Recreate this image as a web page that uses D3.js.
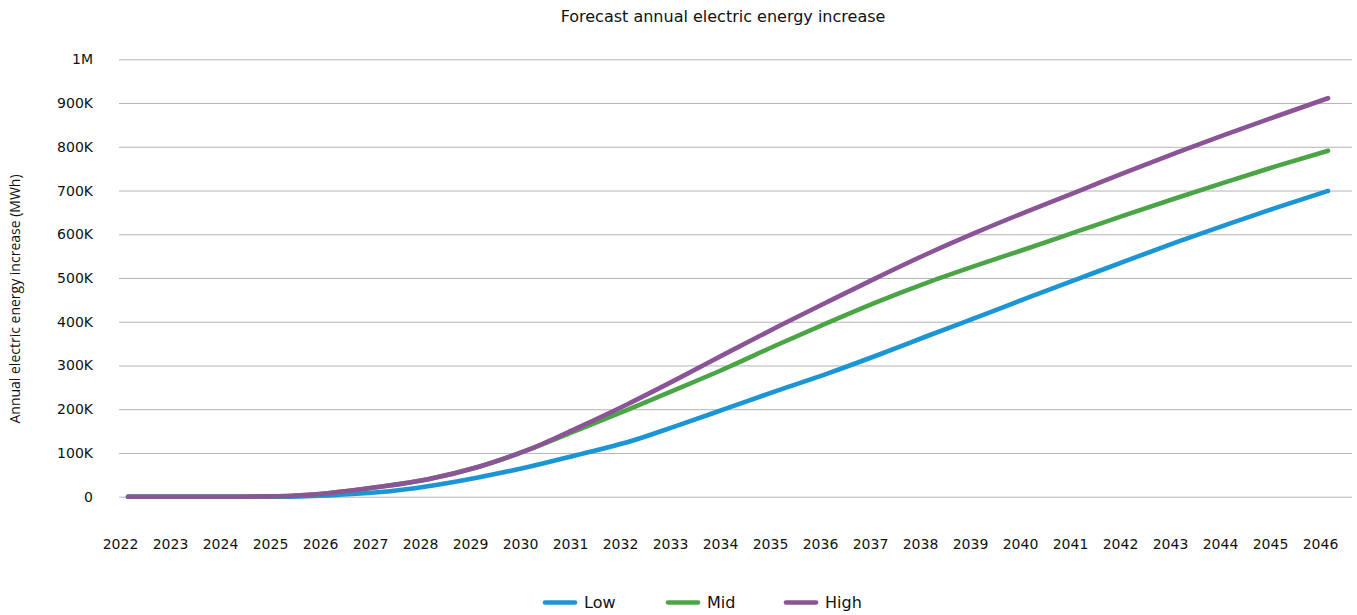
<!DOCTYPE html>
<html>
<head>
<meta charset="utf-8">
<script src="https://cdn.jsdelivr.net/npm/d3@7/dist/d3.min.js"></script>
<style>
  html, body { margin: 0; padding: 0; background: #fff; }
  svg { display: block; }
  text { font-family: "DejaVu Sans", "Noto Sans", sans-serif; fill: #111; }
</style>
</head>
<body>
<svg id="chart" width="1357" height="615"></svg>
<script>
// Forecast years (category axis)
const years = [2022, 2023, 2024, 2025, 2026, 2027, 2028, 2029, 2030, 2031, 2032, 2033,
               2034, 2035, 2036, 2037, 2038, 2039, 2040, 2041, 2042, 2043, 2044, 2045, 2046];

// Annual electric energy increase, thousands of MWh
const lowValues  = [0, 0, 0, 0, 3, 10, 24, 44, 68, 96, 125, 163,
                    203, 243, 282, 324, 368, 411, 455, 498, 541, 583, 623, 662, 699];
const midValues  = [0, 0, 0, 1, 8, 22, 40, 68, 107, 153, 199, 247,
                    296, 348, 398, 446, 490, 530, 568, 607, 646, 684, 721, 757, 791];
const highValues = [0, 0, 0, 1, 8, 22, 40, 68, 107, 158, 212, 270,
                    330, 389, 446, 502, 556, 606, 653, 698, 744, 788, 830, 871, 911];

const seriesNames  = ["Low", "Mid", "High"];
const seriesColors = ["#1b95d4", "#4ba547", "#8a5496"];

const yTicks = [0, 100000, 200000, 300000, 400000, 500000, 600000, 700000, 800000, 900000, 1000000];
const yTickLabels = ["0", "100K", "200K", "300K", "400K", "500K", "600K", "700K", "800K", "900K", "1M"];

const svg = d3.select("#chart");

const x = d3.scaleLinear().domain([2022, 2046]).range([128, 1328]);
const y = d3.scaleLinear().domain([0, 1000000]).range([496.7, 59.3]);

// Title
svg.append("text")
  .attr("x", 723).attr("y", 22)
  .attr("text-anchor", "middle")
  .style("font-size", "16px")
  .text("Forecast annual electric energy increase");

// Y axis with gridlines
const yAxis = d3.axisLeft(y)
  .tickValues(yTicks)
  .tickFormat((d, i) => yTickLabels[i])
  .tickSize(-(1352 - 119))
  .tickPadding(26);

const gy = svg.append("g")
  .attr("transform", "translate(119,0)")
  .call(yAxis);
gy.select(".domain").remove();
gy.selectAll(".tick line").attr("stroke", "#b4b4b4").attr("stroke-width", 1);
gy.selectAll(".tick text")
  .style("font-size", "14px")
  .style("font-family", "'DejaVu Sans', 'Noto Sans', sans-serif")
  .attr("fill", "#111");

// Y axis title
svg.append("text")
  .attr("transform", "translate(20,299) rotate(-90)")
  .attr("text-anchor", "middle")
  .style("font-family", "'Open Sans', 'Noto Sans', sans-serif")
  .style("font-size", "14px")
  .text("Annual electric energy increase (MWh)");

// X axis labels
const xAxis = d3.axisBottom(x)
  .tickValues(years)
  .tickFormat(d3.format("d"))
  .tickSize(0)
  .tickPadding(0);

const gx = svg.append("g")
  .attr("transform", "translate(-8,539)")
  .call(xAxis);
gx.select(".domain").remove();
gx.selectAll(".tick text")
  .style("font-size", "14px")
  .style("font-family", "'DejaVu Sans', 'Noto Sans', sans-serif")
  .attr("fill", "#111")
  .attr("dy", "0.71em");

// Series lines
const seriesData = [lowValues, midValues, highValues].map((vals, i) => ({
  name: seriesNames[i],
  color: seriesColors[i],
  points: years.map((yr, j) => ({ year: yr, value: vals[j] * 1000 }))
}));

const line = d3.line()
  .x(d => x(d.year))
  .y(d => y(d.value))
  .curve(d3.curveMonotoneX);

svg.append("g")
  .selectAll("path")
  .data(seriesData)
  .join("path")
  .attr("d", d => line(d.points))
  .attr("fill", "none")
  .attr("stroke", d => d.color)
  .attr("stroke-width", 4.6)
  .attr("stroke-linecap", "round")
  .attr("stroke-linejoin", "round");

// Legend
const legendX = [545, 668, 786];
const legend = svg.append("g")
  .selectAll("g")
  .data(seriesData)
  .join("g")
  .attr("transform", (d, i) => `translate(${legendX[i]},602.5)`);

legend.append("line")
  .attr("x1", 0).attr("x2", 30)
  .attr("y1", 0).attr("y2", 0)
  .attr("stroke", d => d.color)
  .attr("stroke-width", 4.6)
  .attr("stroke-linecap", "round");

legend.append("text")
  .attr("x", 39).attr("y", 0)
  .attr("dy", "0.35em")
  .style("font-size", "16px")
  .text(d => d.name);
</script>
</body>
</html>
